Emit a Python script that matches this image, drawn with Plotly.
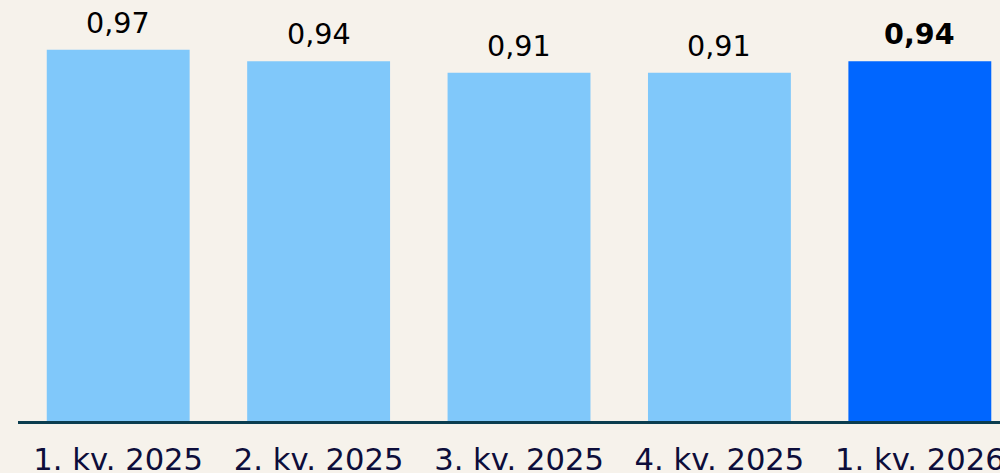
import plotly.graph_objects as go

# quarters and values
kvartaler = ['1. kv. 2025', '2. kv. 2025', '3. kv. 2025', '4. kv. 2025', '1. kv. 2026']
verdier = [0.97, 0.94, 0.91, 0.91, 0.94]
farger = ['#80c8fa', '#80c8fa', '#80c8fa', '#80c8fa', '#0066ff']

bakgrunn = '#f6f2eb'

fig = go.Figure()
fig.add_trace(go.Bar(
    x=kvartaler,
    y=verdier,
    marker=dict(color=farger, line=dict(width=0)),
    hoverinfo='skip',
))

# value labels above the bars, comma as decimal separator
for i, (k, v) in enumerate(zip(kvartaler, verdier)):
    tekst = f'{v:.2f}'.replace('.', ',')
    if i == len(verdier) - 1:
        tekst = '<b>' + tekst + '</b>'
    fig.add_annotation(x=k, y=v, text=tekst, showarrow=False,
                       yanchor='middle', yshift=27,
                       font=dict(size=28.6, color='#000000'))

fig.update_layout(
    width=1000, height=473,
    margin=dict(l=18, r=0, t=0, b=52, autoexpand=False),
    paper_bgcolor=bakgrunn,
    plot_bgcolor=bakgrunn,
    bargap=0.287,
    showlegend=False,
    font=dict(family='DejaVu Sans', size=28, color='#0d0d3a'),
)
fig.update_xaxes(range=[-0.5, 4.4], showline=True, linecolor='#0b3d4f', linewidth=3,
                 ticks='outside', ticklen=9, tickcolor=bakgrunn, automargin=False,
                 tickfont=dict(size=30.6, color='#0d0d3a'), showgrid=False)
fig.update_yaxes(range=[0, 1.1], visible=False, showgrid=False, automargin=False)

# no page margin around the figure
fig.write_html('out.html', config={'displayModeBar': False},
               post_script="document.body.style.margin='0';"
                           "document.body.style.overflow='hidden';"
                           "document.body.style.background='" + bakgrunn + "';")
